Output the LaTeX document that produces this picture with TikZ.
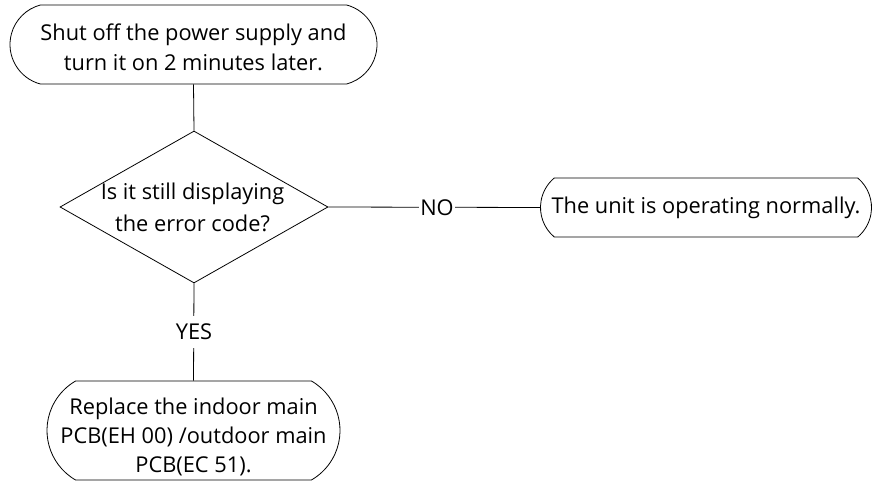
\documentclass[tikz,border=0pt]{standalone}
\usepackage{fontspec}
\setmainfont{Open Sans}
\usetikzlibrary{shapes.geometric,shapes.misc}
\begin{document}
\begin{tikzpicture}[x=1pt,y=-1pt,
  every node/.style={font=\fontsize{21.8}{30}\selectfont, inner sep=0pt},
  term/.style={rounded rectangle, draw, line width=0.8pt, align=center},
  link/.style={draw, line width=0.8pt},
  lbl/.style={fill=white, inner xsep=2pt, inner ysep=8pt}]
\useasboundingbox (0,0) rectangle (873,481);
\node[term, minimum width=367, minimum height=79, rounded rectangle arc length=150] (start) at (193.5,44.5) {};
\node[align=center] (starttext) at (193.5,47)
  {Shut off the power supply and\\turn it on 2 minutes later.};
\node[diamond, draw, line width=0.8pt, minimum width=268, minimum height=152, aspect=1.76] (d) at (194,207) {};
\node[align=center, font=\fontsize{21.8}{32}\selectfont] (dt) at (192.5,207) {Is it still displaying\\the error code?};
\node[term, minimum width=331, minimum height=59, rounded rectangle arc length=100] (ok) at (706,207.5)
  {The unit is operating normally.};
\node[term, minimum width=293, minimum height=99, rounded rectangle arc length=120] (rep) at (193.5,430.5) {};
\node[align=center, font=\fontsize{21.8}{29}\selectfont] (reptext) at (193.5,437)
  {Replace the indoor main\\PCB(EH 00) /outdoor main\\PCB(EC 51).};
\draw[link] (start.south) -- (d.north);
\draw[link] (d.east) -- (ok.west);
\draw[link] (d.south) -- (rep.north);
\node[lbl, inner ysep=2pt, inner xsep=1pt] (no) at (437,208) {NO};
\node[lbl] (yes) at (194,332) {YES};
\end{tikzpicture}
\end{document}
